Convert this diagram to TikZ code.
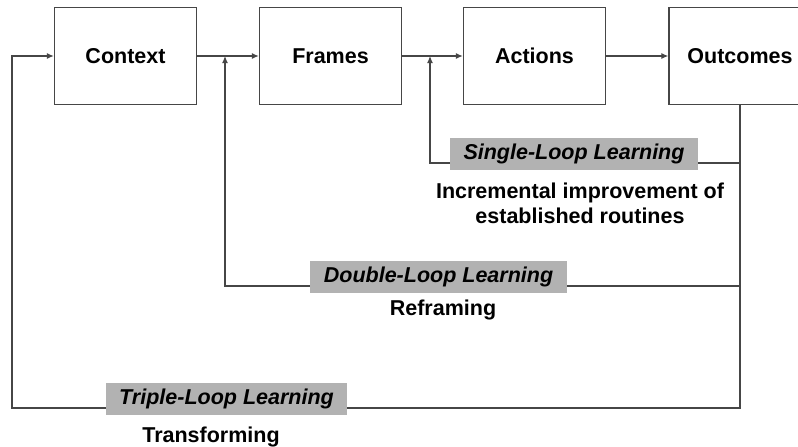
\documentclass[tikz,border=0pt]{standalone}
\usepackage{fontspec}
\setmainfont{Liberation Sans}
\usetikzlibrary{arrows.meta}
\definecolor{linegray}{RGB}{70,70,70}
\definecolor{labelgray}{RGB}{178,178,178}
\tikzstyle{stage}=[rectangle,draw=linegray,line width=1.3pt,minimum width=142pt,minimum height=97pt,inner sep=0pt,font=\bfseries\fontsize{21.5}{24}\selectfont]
\tikzstyle{loop}=[fill=labelgray,inner sep=0pt,minimum height=32pt,font=\bfseries\itshape\fontsize{21.5}{24}\selectfont]
\tikzstyle{note}=[align=center,inner sep=0pt,font=\bfseries\fontsize{21.5}{25}\selectfont]
\tikzstyle{flow}=[draw=linegray,line width=1.2pt,-{Latex[length=7pt,width=6pt]}]

\begin{document}
\begin{tikzpicture}[x=1pt,y=-1pt]

    \useasboundingbox (0,0) rectangle (798,447);
    \clip (0,0) rectangle (798,447);

    \foreach \pos/\name/\txt in {{(125.5,56)/context/Context}, {(330.5,56)/frames/Frames},
                                 {(534.5,56)/actions/Actions}, {(740,56)/outcomes/Outcomes}}
        \node[stage] (\name) at \pos {\txt};

    % junctions and corners of the feedback loops
    \coordinate (s1) at (430,56);
    \coordinate (s2) at (430,163);
    \coordinate (d1) at (225,56);
    \coordinate (d2) at (225,286);
    \coordinate (t1) at (12,408);

    % forward chain
    \draw[flow] (context) -- (frames);
    \draw[flow] (frames) -- (actions);
    \draw[flow] (actions) -- (outcomes);

    % feedback loops
    \draw[flow] (outcomes.south) |- (s2) -- (s1);
    \draw[flow] (outcomes.south) |- (d2) -- (d1);
    \draw[flow] (outcomes.south) |- (t1) |- (context.west);

    % loop labels
    \node[loop, minimum width=248pt] (single) at (574,154) {Single-Loop Learning};
    \node[note] (singletxt) at (580,203) {Incremental improvement of\\established routines};

    \node[loop, minimum width=257pt] (double) at (438.5,276.5) {Double-Loop Learning};
    \node[note] (doubletxt) at (443,310) {Reframing};

    \node[loop, minimum width=241pt] (triple) at (226.5,399) {Triple-Loop Learning};
    \node[note] (tripletxt) at (211,437) {Transforming};

\end{tikzpicture}
\end{document}
